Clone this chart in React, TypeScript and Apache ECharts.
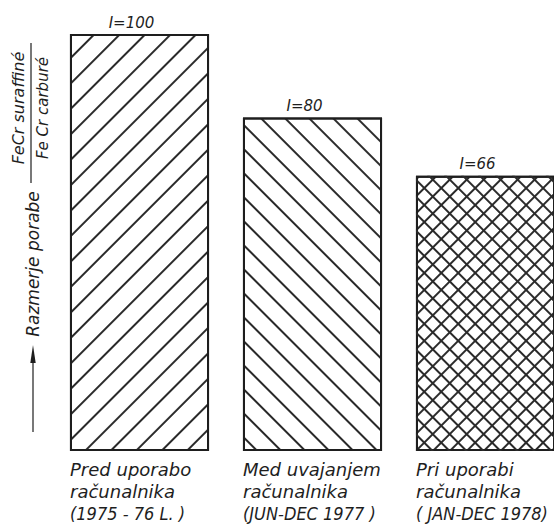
import React, { useEffect, useRef } from 'react';
import * as echarts from 'echarts';

// ---- data ----
const categories = [
  'Pred uporabo\nračunalnika\n(1975 - 76 L. )',
  'Med uvajanjem\nračunalnika\n(JUN-DEC 1977 )',
  'Pri uporabi\nračunalnika\n( JAN-DEC 1978)',
];
const values = [100, 80, 66];
const crossHatched = [false, false, true];
const labelPrefix = 'I=';
const axisTitle = 'Razmerje porabe';
const fractionTop = 'FeCr suraffiné';
const fractionBottom = 'Fe Cr carburé';

// ---- styles ----
const FONT = '"DejaVu Sans", "Liberation Sans", sans-serif';
const FONT_NARROW = '"DejaVu Sans Condensed", "Liberation Sans", sans-serif';
const INK = '#1e1e1e';

const hatch = (rotation: number, gap: number, width = 2) => ({
  symbol: 'rect',
  symbolSize: 1,
  color: '#2a2a2a',
  backgroundColor: null,
  dashArrayX: [8, 0],
  dashArrayY: [width, gap],
  rotation,
});

// positive pattern rotation turns clockwise on screen
const barDecals = [hatch(-Math.PI / 4, 16), hatch(Math.PI / 4, 15), hatch(-Math.PI / 4, 10)];
const crossDecal = hatch(Math.PI / 4, 10);

const labelLine = {
  width: 139,
  align: 'left',
  fontSize: 18,
  lineHeight: 22,
  fontStyle: 'italic',
  fontFamily: FONT,
  color: INK,
};

export default function App() {
  const ref = useRef<HTMLDivElement>(null);

  useEffect(() => {
    if (!ref.current) return;
    const chart = echarts.init(ref.current, undefined, { renderer: 'svg' });
    const option: any = {
      animation: false,
      backgroundColor: '#ffffff',
      grid: { left: 53, right: -18, top: 34, bottom: 74, outerBoundsMode: 'none', containLabel: false },
      xAxis: {
        type: 'category',
        data: categories,
        axisLine: { show: false },
        axisTick: { show: false },
        axisLabel: {
          interval: 0,
          margin: 7,
          align: 'center',
          formatter: (v: string) =>
            v
              .split('\n')
              .map((l, i) => (i < 2 ? `{a|${l}}` : `{b|${l}}`))
              .join('\n'),
          rich: {
            a: labelLine,
            b: { ...labelLine, fontFamily: FONT_NARROW },
          },
        },
      },
      yAxis: {
        type: 'value',
        min: 0,
        max: 100,
        show: false,
      },
      series: [
        {
          type: 'bar',
          silent: true,
          barWidth: '80.4%',
          barGap: '-100%',
          data: values.map((v, i) => ({ value: v, itemStyle: { decal: barDecals[i] } })),
          itemStyle: { color: '#ffffff', borderColor: INK, borderWidth: 2 },
          label: {
            show: true,
            position: 'top',
            distance: 4,
            offset: [-8, 0],
            formatter: (p: any) => labelPrefix + p.value,
            fontStyle: 'italic',
            fontSize: 15,
            fontFamily: FONT,
            color: INK,
          },
        },
        {
          type: 'bar',
          silent: true,
          barWidth: '80.4%',
          barGap: '-100%',
          z: 3,
          data: values.map((v, i) => (crossHatched[i] ? v : '-')),
          itemStyle: { color: 'rgba(0,0,0,0)', borderWidth: 0, decal: crossDecal },
        },
      ],
      graphic: [
        {
          type: 'text',
          x: 18,
          y: 108,
          rotation: Math.PI / 2,
          style: {
            text: fractionTop,
            align: 'center',
            verticalAlign: 'middle',
            fontStyle: 'italic',
            fontSize: 16,
            fontFamily: FONT,
            fill: INK,
          },
        },
        {
          type: 'line',
          shape: { x1: 31, y1: 43, x2: 31, y2: 183 },
          style: { stroke: INK, lineWidth: 1.2 },
        },
        {
          type: 'text',
          x: 43,
          y: 108,
          rotation: Math.PI / 2,
          style: {
            text: fractionBottom,
            align: 'center',
            verticalAlign: 'middle',
            fontStyle: 'italic',
            fontSize: 15,
            fontFamily: FONT,
            fill: INK,
          },
        },
        {
          type: 'text',
          x: 33,
          y: 264,
          rotation: Math.PI / 2,
          style: {
            text: axisTitle,
            align: 'center',
            verticalAlign: 'middle',
            fontStyle: 'italic',
            fontSize: 17,
            fontFamily: FONT,
            fill: INK,
          },
        },
        {
          type: 'line',
          shape: { x1: 33, y1: 360, x2: 33, y2: 432 },
          style: { stroke: INK, lineWidth: 1.2 },
        },
        {
          type: 'polygon',
          shape: { points: [[33, 345], [30.3, 363], [35.7, 363]] },
          style: { fill: INK },
        },
      ],
    };
    chart.setOption(option);
    return () => chart.dispose();
  }, []);

  return (
    <div
      ref={ref}
      style={{ position: 'fixed', left: 0, top: 0, width: 554, height: 525, background: '#fff' }}
    />
  );
}
